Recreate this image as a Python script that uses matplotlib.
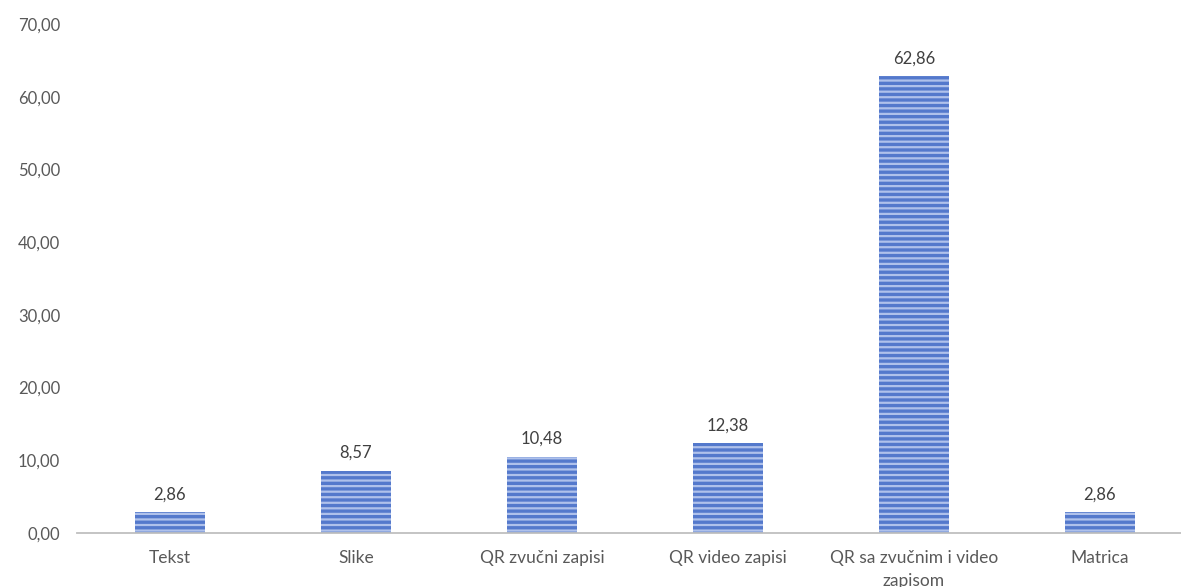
import matplotlib
matplotlib.use("Agg")
import matplotlib.pyplot as plt

categories = ["Tekst", "Slike", "QR zvučni zapisi", "QR video zapisi",
              "QR sa zvučnim i video\nzapisom", "Matrica"]
values = [2.86, 8.57, 10.48, 12.38, 62.86, 2.86]
yticks = [0, 10, 20, 30, 40, 50, 60, 70]

plt.rcParams['font.family'] = ['Lato', 'DejaVu Sans']
plt.rcParams['hatch.linewidth'] = 1.6

fig = plt.figure(figsize=(11.81, 5.87), dpi=100)
ax = fig.add_axes([77/1181, 54/587, 1116/1181, 509/587])

x = list(range(len(categories)))
ax.bar(x, values, width=0.38, color='#5479CC', edgecolor='#AFC1EB',
       linewidth=0, hatch='---', zorder=2)

for xi, v in zip(x, values):
    ax.annotate(f"{v:.2f}".replace('.', ','), (xi, v), xytext=(0, 7),
                textcoords='offset points', ha='center', va='bottom',
                fontsize=12, color='#404040')

ax.set_xlim(-0.5, 5.5)
ax.set_ylim(0, 70)
ax.set_yticks(yticks)
ax.set_yticklabels([f"{t:.2f}".replace('.', ',') for t in yticks])
ax.set_xticks(x)
ax.set_xticklabels(categories, linespacing=1.5)

for s in ['top', 'right', 'left']:
    ax.spines[s].set_visible(False)
ax.spines['bottom'].set_color('#BFBFBF')
ax.spines['bottom'].set_linewidth(1.3)
ax.tick_params(axis='both', length=0, labelcolor='#595959')
ax.tick_params(axis='y', pad=12, labelsize=12)
ax.tick_params(axis='x', pad=12.5, labelsize=12.5)

fig.savefig("out.png", dpi=100)
